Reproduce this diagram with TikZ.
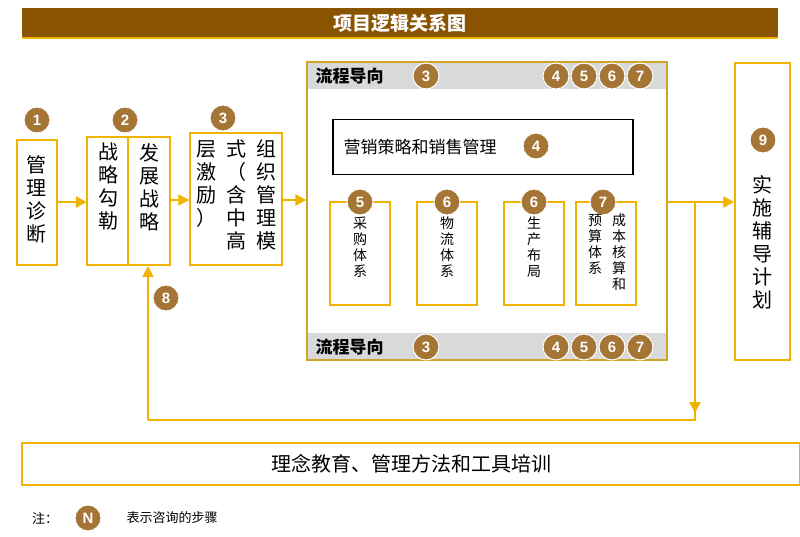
\documentclass[tikz,border=0pt]{standalone}
\usepackage{fontspec}
\setmainfont{Liberation Sans}
\newfontfamily\cjk{Noto Sans CJK SC}
\usetikzlibrary{arrows.meta}
\definecolor{gold}{HTML}{F0B400}
\definecolor{brownc}{HTML}{A57535}
\definecolor{titlebg}{HTML}{8A5300}
\definecolor{band}{HTML}{D9D9D9}
\tikzset{x=1pt,y=-1pt,
 num/.style={circle,fill=brownc,draw=white,line width=1pt,minimum size=26pt,inner sep=0pt,text=white,font=\bfseries\fontsize{15}{15}\selectfont},
 gbox/.style={draw=gold,line width=1.5pt},
 vt/.style={align=center,font=\cjk\fontsize{20}{23}\selectfont,inner sep=0pt,anchor=north},
 vts/.style={align=center,font=\cjk\fontsize{14}{16}\selectfont,inner sep=0pt,anchor=north},
 arr/.style={draw=gold,line width=2.5pt,-{Triangle[length=11pt,width=11pt]}},
 ln/.style={draw=gold,line width=2.5pt}}
\begin{document}
\begin{tikzpicture}
\useasboundingbox[fill=white] (0,0) rectangle (800,537);
% title
\fill[titlebg] (22,8) rectangle (778,37);
\draw[gold,line width=1.5pt] (22,38) -- (778,38);
\node[text=white,font=\cjk\bfseries\fontsize{19}{19}\selectfont] (title) at (400,23) {项目逻辑关系图};
% box1
\node[gbox,minimum width=40pt,minimum height=125pt] (b1) at (37,202.5) {};
\node[vt] at (37,155) {管\\理\\诊\\断};
\node[num] (n1) at (37,120) {1};
% box2
\draw[gbox] (87,137) rectangle (170,265);
\node[inner sep=0,minimum width=83pt,minimum height=128pt] (b2) at (128.5,201) {};
\draw[gold,line width=1.5pt] (128,137) -- (128,265);
\node[vt] at (108,143) {战\\略\\勾\\勒};
\node[vt] at (149,143) {发\\展\\战\\略};
\node[num] (n2) at (125,120) {2};
% box3
\node[gbox,minimum width=92pt,minimum height=132pt] (b3) at (236,199) {};
\node[vt] at (266,140) {组\\织\\管\\理\\模};
\node[vt] at (236,140) {式\\（\\含\\中\\高};
\node[vt] at (206,140) {层\\激\\励\\）};
\node[num] (n3) at (223,118) {3};
% big box
\node[draw=gold!70!gray,line width=1.3pt,minimum width=360pt,minimum height=298pt,inner sep=0] (big) at (487,211) {};
\fill[band] (308,63) rectangle (666,89);
\fill[band] (308,333) rectangle (666,359);
\node[font=\cjk\bfseries\fontsize{17}{17}\selectfont,anchor=west] (lt) at (312,76) {流程导向};
\node[font=\cjk\bfseries\fontsize{17}{17}\selectfont,anchor=west] (lb) at (312,347) {流程导向};
\foreach \y/\t in {76/t,347/b}{
 \node[num] (a3\t) at (426,\y) {3};
 \node[num] (a4\t) at (556,\y) {4};
 \node[num] (a5\t) at (584,\y) {5};
 \node[num] (a6\t) at (612,\y) {6};
 \node[num] (a7\t) at (640,\y) {7};}
\node[draw=black,line width=1.2pt,minimum width=300pt,minimum height=55pt] (mk) at (483,147) {};
\node[font=\cjk\fontsize{17}{17}\selectfont,anchor=west] (mkt) at (340,147) {营销策略和销售管理};
\node[num] (n4) at (536,146) {4};
\foreach \x/\nm/\n in {360/s1/5,447/s2/6,534/s3/6}{
 \node[gbox,minimum width=60pt,minimum height=103pt] (\nm) at (\x,253.5) {};
 \node[num] at (\x,202) {\n};}
\node[gbox,minimum width=60pt,minimum height=103pt] (s4) at (606,253.5) {};
\node[num] at (603,202) {7};
\node[vts] at (360,217) {采\\购\\体\\系};
\node[vts] at (447,217) {物\\流\\体\\系};
\node[vts] at (534,217) {生\\产\\布\\局};
\node[vts] at (619,214) {成\\本\\核\\算\\和};
\node[vts] at (595,214) {预\\算\\体\\系};
% box 9
\node[gbox,minimum width=55pt,minimum height=297pt] (b9) at (762.5,211.5) {};
\node[vt] at (762,175) {实\\施\\辅\\导\\计\\划};
\node[num] (n9) at (763,140) {9};
% arrows
\draw[arr] (b1.east |- 0,202) -- (b2.west |- 0,202);
\draw[arr] (b2.east |- 0,200) -- (b3.west |- 0,200);
\draw[arr] (b3.east |- 0,200) -- (big.west |- 0,200);
\draw[arr] (big.east |- 0,202) -- (b9.west |- 0,202);
\coordinate (c1) at (695,202);
\coordinate (c2) at (695,420);
\coordinate (c3) at (148,420);
\draw[arr] (c1) -- (695,413);
\draw[ln] (695,410) -- (c2) -- (c3);
\draw[arr] (c3) -- (148,266);
\node[num] (n8) at (166,298) {8};
% bottom
\node[draw=gold,line width=1.5pt,minimum width=778pt,minimum height=42pt] (bot) at (411,464) {};
\node[font=\cjk\fontsize{20}{20}\selectfont] at (411,464) {理念教育、管理方法和工具培训};
\node[font=\cjk\fontsize{13}{13}\selectfont] (zhu) at (45,518) {注：};
\node[num] (nn) at (88,518) {N};
\node[font=\cjk\fontsize{13}{13}\selectfont,anchor=west] (biao) at (123,518) {表示咨询的步骤};
\end{tikzpicture}
\end{document}
